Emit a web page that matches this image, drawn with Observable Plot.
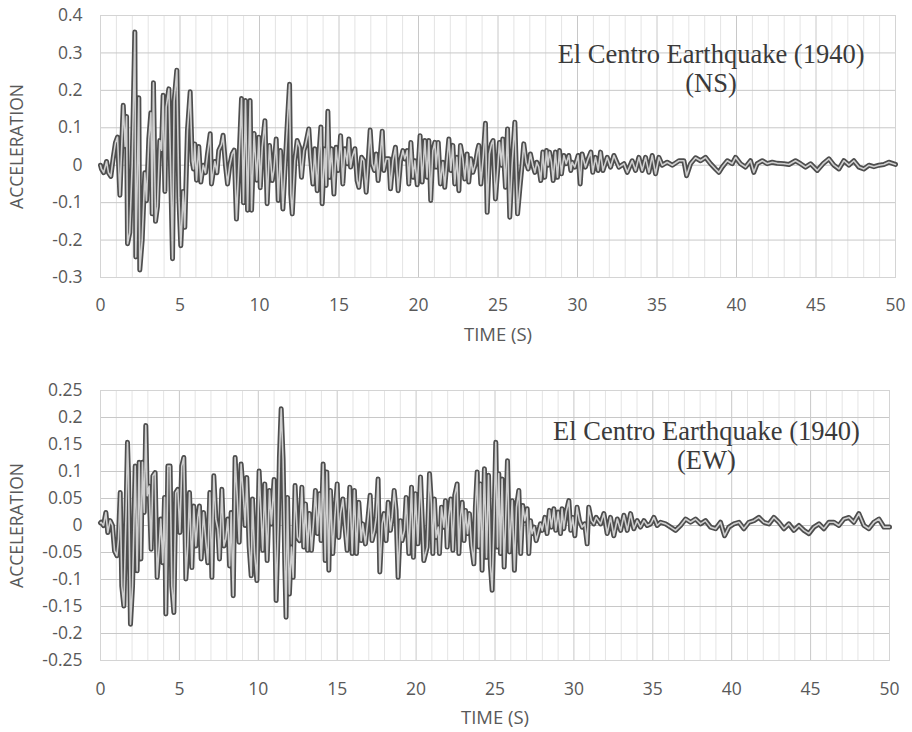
<!DOCTYPE html>
<html>
<head>
<meta charset="utf-8">
<script src="https://cdn.jsdelivr.net/npm/d3@7"></script>
<script src="https://cdn.jsdelivr.net/npm/@observablehq/plot@0.6"></script>
<style>
  html, body { margin: 0; padding: 0; background: #fff; }
  #chart { width: 912px; height: 732px; position: relative; }
  #chart svg { display: block; }
</style>
</head>
<body>
<div id="chart"></div>
<script>
// ---- tick values ----
const xTicks = [0, 5, 10, 15, 20, 25, 30, 35, 40, 45, 50];
const minorXTicks = [1,2,3,4,6,7,8,9,11,12,13,14,16,17,18,19,21,22,23,24,26,27,28,29,31,32,33,34,36,37,38,39,41,42,43,44,46,47,48,49];
const nsYTicks = [-0.3, -0.2, -0.1, 0, 0.1, 0.2, 0.3, 0.4];
const ewYTicks = [-0.25, -0.2, -0.15, -0.1, -0.05, 0, 0.05, 0.1, 0.15, 0.2, 0.25];

// ---- annotation texts ----
const nsTitle = "El Centro Earthquake (1940)\n(NS)";
const ewTitle = "El Centro Earthquake (1940)\n(EW)";
const xTitle = "TIME (S)";
const yTitle = "ACCELERATION";

// ---- NS record: [time (s), acceleration] ----
const nsPoints = [
[0,0],[0.06,-0.01],[0.2,-0.02],[0.38,0.01],[0.5,-0.02],[0.65,-0.03],[0.8,0.02],[0.94,0.06],[1.07,0.075],[1.22,-0.08],
[1.43,0.16],[1.55,0.05],[1.64,0.13],[1.70,-0.21],[1.84,-0.18],[1.99,0.0],[2.16,0.356],[2.22,-0.245],[2.41,0.18],[2.47,-0.28],
[2.62,-0.2],[2.79,-0.02],[2.89,-0.095],[3.04,0.07],[3.17,0.14],[3.25,-0.13],[3.33,0.22],[3.46,-0.15],[3.58,-0.11],[3.73,0.066],
[3.84,0.04],[3.94,0.187],[4.05,-0.07],[4.13,0.155],[4.30,0.204],[4.42,-0.03],[4.53,-0.25],[4.63,0.17],[4.80,0.254],[4.93,-0.086],
[5.05,-0.215],[5.20,-0.07],[5.30,-0.166],[5.47,0.093],[5.64,0.196],[5.77,0.01],[5.85,-0.01],[5.93,0.057],[6.04,-0.04],[6.18,0.05],
[6.31,-0.045],[6.46,0],[6.60,-0.02],[6.73,0.03],[6.90,0.084],[6.98,-0.05],[7.19,0.01],[7.32,-0.02],[7.44,0.04],[7.61,0.055],
[7.71,0.08],[7.86,0],[7.99,-0.05],[8.13,0],[8.28,0.03],[8.41,0.04],[8.55,-0.144],[8.70,0],[8.87,0.178],[8.99,-0.10],
[9.12,0.173],[9.25,-0.12],[9.41,0.173],[9.50,-0.12],[9.66,0.085],[9.83,-0.04],[9.96,0.075],[10.05,-0.06],[10.17,0.048],[10.34,0.119],
[10.48,-0.103],[10.63,0.053],[10.80,-0.041],[10.90,-0.014],[11.05,0.07],[11.18,-0.094],[11.32,0.039],[11.47,-0.117],[11.64,0.021],[11.76,0.119],
[11.89,0.216],[11.97,-0.077],[12.06,-0.13],[12.22,0.012],[12.37,0.066],[12.52,0.048],[12.64,-0.032],[12.79,0.039],[12.89,0.053],[13.10,0.097],
[13.21,0.021],[13.36,-0.05],[13.48,0.044],[13.63,-0.068],[13.73,0.021],[13.86,0.102],[13.94,-0.103],[14.11,0.044],[14.19,-0.054],[14.30,0.144],
[14.40,-0.032],[14.53,0.044],[14.68,-0.077],[14.82,0.048],[14.95,-0.014],[15.10,0.079],[15.24,-0.05],[15.37,0.044],[15.52,0.004],[15.62,0.07],
[15.73,-0.005],[15.83,0.021],[16.0,0.044],[16.14,-0.041],[16.25,-0.059],[16.42,0.021],[16.56,0.012],[16.71,-0.072],[16.84,0.012],[16.96,0.094],
[17.09,0.004],[17.23,-0.014],[17.34,0.03],[17.46,-0.041],[17.57,0.012],[17.72,0.091],[17.82,-0.014],[17.97,0.017],[18.14,0.017],[18.24,-0.063],
[18.39,0.012],[18.55,0.048],[18.72,-0.068],[18.87,0.012],[19.02,0.039],[19.14,0.017],[19.29,0.039],[19.39,-0.05],[19.52,0.061],[19.65,-0.032],
[19.77,0.012],[19.92,-0.052],[20.10,0.079],[20.23,-0.045],[20.40,0.066],[20.54,-0.032],[20.65,0.066],[20.77,-0.094],[20.90,0.039],[21.03,0.061],
[21.11,-0.005],[21.24,0.061],[21.38,-0.05],[21.53,0.008],[21.65,-0.059],[21.80,0.017],[21.91,0.07],[22.03,-0.014],[22.16,0.053],[22.28,-0.05],
[22.41,0.021],[22.54,-0.068],[22.64,0.053],[22.79,0.017],[22.91,-0.037],[23.06,0.03],[23.16,-0.045],[23.29,0.017],[23.42,-0.019],[23.58,0.004],
[23.71,0.039],[23.79,0.053],[23.92,-0.05],[24.07,0.021],[24.21,0.112],[24.32,-0.126],[24.46,0.03],[24.59,0.057],[24.69,0.066],[24.84,-0.09],
[24.99,-0.005],[25.09,0.061],[25.22,0],[25.30,0.07],[25.47,-0.059],[25.60,0.097],[25.74,-0.139],[25.89,0.004],[26.06,0.115],[26.23,-0.13],
[26.37,-0.063],[26.52,0.004],[26.62,0.057],[26.77,0.008],[26.90,-0.01],[27.04,0.03],[27.19,0],[27.32,-0.019],[27.44,0.008],[27.57,-0.005],
[27.69,-0.041],[27.82,0.035],[27.94,-0.032],[28.05,0.039],[28.15,0],[28.24,0.035],[28.36,0.008],[28.47,-0.041],[28.61,0.035],[28.74,-0.032],
[28.87,0.039],[28.99,-0.023],[29.14,0.026],[29.29,0.004],[29.45,0.026],[29.58,-0.014],[29.66,0.008],[29.83,-0.005],[30.04,0.026],[30.17,-0.05],
[30.29,0.03],[30.50,-0.005],[30.67,0.017],[30.84,0.035],[30.96,-0.019],[31.13,0.021],[31.30,-0.014],[31.45,0.035],[31.60,-0.014],[31.87,0.021],
[32.08,-0.005],[32.29,0.026],[32.6,-0.005],[32.92,0.004],[33.13,-0.019],[33.44,0.012],[33.65,-0.014],[33.86,0.021],[34.07,-0.014],[34.28,0.021],
[34.49,-0.019],[34.7,0.026],[34.91,-0.023],[35.12,0.021],[35.33,0],[35.64,0.008],[35.96,0],[36.38,0.012],[36.69,0.012],[36.86,-0.028],
[37.11,0.004],[37.42,0.02],[37.74,0.012],[38.05,0.021],[38.37,0.004],[38.68,-0.01],[38.89,-0.019],[39.1,-0.005],[39.42,0.012],[39.73,0.004],
[39.94,0.021],[40.25,0.004],[40.57,-0.005],[40.88,0.012],[41.09,-0.019],[41.3,0.004],[41.62,0.012],[41.93,0.004],[42.25,0.008],[42.56,0.005],
[42.98,0.004],[43.3,0.002],[43.71,0.012],[44.03,0.004],[44.34,-0.005],[44.66,0.004],[45.08,-0.014],[45.45,0.004],[45.81,0.017],[46.13,0],
[46.44,-0.01],[46.75,0.012],[47.07,0],[47.38,0.012],[47.7,-0.005],[48.01,-0.01],[48.33,0],[48.64,-0.004],[48.96,0],[49.27,0.002],
[49.58,0.008],[50,0.002]
];

// ---- EW record: [time (s), acceleration] ----
const ewPoints = [
[0,0.005],[0.04,0.006],[0.19,0],[0.34,0.024],[0.46,-0.013],[0.61,0.009],[0.76,0],[0.89,-0.047],[1.04,-0.056],[1.14,-0.025],
[1.25,0.061],[1.35,-0.112],[1.48,-0.149],[1.61,0.012],[1.71,0.154],[1.77,0.098],[1.90,-0.183],[2.03,-0.112],[2.20,0.11],[2.32,-0.084],
[2.45,0.117],[2.56,-0.062],[2.66,0.117],[2.77,0.024],[2.87,0.185],[2.96,0.055],[3.08,0.073],[3.21,-0.044],[3.32,0.092],[3.46,0.098],
[3.59,-0.096],[3.72,-0.038],[3.82,0.012],[3.95,-0.069],[4.06,0.052],[4.14,-0.164],[4.27,0.11],[4.41,0.11],[4.52,-0.112],[4.65,-0.161],
[4.77,0.061],[4.90,0.067],[5.03,-0.013],[5.15,0.11],[5.28,0.126],[5.41,-0.099],[5.53,-0.038],[5.64,0.061],[5.79,-0.078],[5.91,0.036],
[6.04,-0.038],[6.17,0.015],[6.27,0.036],[6.38,-0.062],[6.53,0.024],[6.68,-0.031],[6.80,-0.069],[6.93,0.061],[7.06,-0.096],[7.18,0.092],
[7.31,0.012],[7.44,-0.007],[7.54,-0.062],[7.69,0.067],[7.82,-0.038],[7.94,-0.025],[8.07,0.012],[8.18,-0.075],[8.28,0.024],[8.41,-0.13],
[8.53,0.126],[8.66,0.055],[8.79,-0.031],[8.91,0.114],[9.04,0.061],[9.17,0],[9.27,0.089],[9.42,-0.038],[9.55,-0.093],[9.63,0.049],
[9.76,-0.05],[9.91,-0.102],[10.05,0.101],[10.28,-0.046],[10.41,0.077],[10.56,-0.065],[10.71,0.065],[10.83,0.003],[11.0,0.085],[11.13,-0.139],
[11.26,-0.003],[11.34,0.127],[11.45,0.216],[11.57,0.123],[11.68,-0.071],[11.76,-0.17],[11.85,0.052],[11.97,-0.127],[12.10,-0.04],[12.21,-0.096],
[12.33,0.074],[12.48,-0.022],[12.61,-0.028],[12.76,0.071],[12.88,-0.04],[12.99,0.04],[13.12,-0.046],[13.24,0.022],[13.37,-0.046],[13.52,0.015],
[13.62,0.065],[13.75,-0.015],[13.88,0.059],[13.98,-0.028],[14.11,0.114],[14.24,-0.065],[14.34,0.099],[14.47,-0.083],[14.57,0.065],[14.72,-0.052],
[14.85,0.015],[15.0,0.077],[15.1,-0.022],[15.21,0.022],[15.36,0.049],[15.48,0.003],[15.63,-0.046],[15.8,0.071],[15.95,-0.052],[16.09,0.065],
[16.22,-0.052],[16.37,0.043],[16.52,-0.028],[16.62,0.003],[16.79,-0.034],[16.92,0.003],[17.09,0.056],[17.21,-0.028],[17.36,-0.009],[17.47,0.015],
[17.59,0.086],[17.7,-0.086],[17.85,0.003],[17.97,0.022],[18.1,-0.028],[18.23,0.043],[18.37,-0.009],[18.48,0.015],[18.61,0.065],[18.73,0.028],
[18.86,-0.096],[19.01,0.009],[19.11,-0.028],[19.26,-0.009],[19.37,0.052],[19.54,-0.052],[19.71,0.071],[19.83,-0.059],[19.96,0.059],[20.11,-0.034],
[20.28,0.09],[20.49,-0.065],[20.70,-0.04],[20.85,0.096],[20.97,0.04],[21.06,-0.052],[21.16,0.049],[21.27,-0.022],[21.40,-0.003],[21.48,-0.052],
[21.61,0.034],[21.76,-0.003],[21.86,0.046],[21.97,-0.04],[22.07,0.015],[22.20,0.049],[22.33,-0.046],[22.45,0.056],[22.60,0.077],[22.71,-0.052],
[22.81,0.015],[22.92,0.043],[23.04,-0.028],[23.13,0.028],[23.26,-0.015],[23.38,0.022],[23.51,-0.037],[23.66,-0.071],[23.76,0.034],[23.87,0.099],
[23.97,-0.04],[24.08,0.077],[24.18,-0.083],[24.33,0.105],[24.46,-0.059],[24.59,0.093],[24.71,-0.074],[24.82,-0.12],[24.95,0.022],[25.05,0.154],
[25.16,-0.04],[25.24,0.096],[25.35,-0.052],[25.45,0.086],[25.58,-0.077],[25.66,-0.009],[25.79,0.12],[25.92,-0.049],[26.09,0.046],[26.23,-0.083],
[26.36,0.034],[26.51,0.065],[26.63,-0.052],[26.76,0.037],[26.89,0.009],[27.04,0.031],[27.14,-0.052],[27.25,0.009],[27.35,-0.015],[27.48,-0.003],
[27.61,-0.028],[27.73,-0.015],[27.88,0.003],[27.99,-0.009],[28.16,0.015],[28.30,-0.015],[28.45,0.028],[28.58,-0.003],[28.73,0.031],[28.85,-0.009],
[29.00,0.025],[29.15,-0.015],[29.25,0.031],[29.36,-0.006],[29.51,0.025],[29.68,0.046],[29.80,-0.009],[29.93,0.015],[30.06,-0.019],[30.2,0.034],
[30.35,0.009],[30.52,-0.003],[30.69,0.003],[30.84,-0.034],[30.94,0.034],[31.11,0.009],[31.26,0.003],[31.41,0.015],[31.69,0.003],[31.9,0.022],
[32.11,-0.015],[32.32,0.015],[32.53,-0.019],[32.75,0.012],[32.96,-0.009],[33.17,0.019],[33.38,-0.009],[33.59,0.022],[33.8,-0.006],[34.01,0.009],
[34.22,-0.003],[34.44,0.009],[34.65,0],[34.86,0.003],[35.07,0.015],[35.28,0],[35.49,0.006],[35.81,0.003],[36.13,-0.003],[36.44,-0.009],
[36.76,0],[37.08,0.012],[37.39,0.006],[37.71,0.012],[38.03,0.003],[38.34,0.009],[38.66,-0.003],[38.98,-0.006],[39.29,0.006],[39.55,-0.019],
[39.82,-0.003],[40.14,0.003],[40.46,0.006],[40.77,-0.006],[41.09,0.006],[41.41,0.009],[41.72,0.015],[42.04,0.006],[42.36,0.003],[42.67,0.015],
[42.99,0.006],[43.31,-0.006],[43.62,0.003],[43.94,-0.009],[44.26,0],[44.58,-0.009],[44.89,-0.015],[45.21,-0.003],[45.53,0.003],[45.84,-0.006],
[46.16,0.006],[46.48,0.006],[46.79,0],[47.11,0.012],[47.43,0.015],[47.74,0.006],[48.06,0.022],[48.38,0],[48.69,-0.006],[49.01,0.006],
[49.33,0.012],[49.65,-0.003],[50,-0.003]
];

function panel(o) {
  const lineOpts = {x: d => d[0], y: d => d[1], strokeLinejoin: "round", strokeLinecap: "round"};
  return Plot.plot({
    width: 912,
    height: o.height,
    marginLeft: 100,
    marginRight: o.marginRight,
    marginTop: o.marginTop,
    marginBottom: o.marginBottom,
    style: {fontFamily: "'Open Sans', sans-serif", fontSize: "17.5px", color: "#595959", background: "white", overflow: "visible"},
    x: {domain: [0, 50], ticks: xTicks, tickSize: 0, tickPadding: o.tickPad, label: null, tickFormat: d => String(d)},
    y: {domain: o.yDomain, ticks: o.yTicks, tickSize: 0, tickPadding: 18, label: null, tickFormat: d => String(d)},
    marks: [
      Plot.ruleX(minorXTicks, {stroke: "#e4e4e4", strokeWidth: 1}),
      Plot.ruleY(o.yTicks, {stroke: "#c8c8c8", strokeWidth: 1}),
      Plot.ruleX(xTicks, {stroke: "#c8c8c8", strokeWidth: 1}),
      Plot.frame({stroke: "#d4d4d4"}),
      Plot.line(o.data, {...lineOpts, stroke: "#4e4e4e", strokeWidth: 5}),
      Plot.line(o.data, {...lineOpts, stroke: "#cfcfcf", strokeWidth: 1.6}),
      Plot.text([{x: o.annX, y: o.annY, t: o.title}], {x: "x", y: "y", text: "t", fontFamily: "'Liberation Serif', 'Times New Roman', serif", fontSize: 26.5, fill: "#3a3a3a", lineHeight: 1.1, textAnchor: "middle"}),
      Plot.text([xTitle], {frameAnchor: "bottom", dy: o.xTitleDy, lineAnchor: "middle", textAnchor: "middle", fontSize: 18.5}),
      Plot.text([yTitle], {frameAnchor: "left", dx: -83, rotate: -90, textAnchor: "middle", lineAnchor: "middle", fontSize: 17.5})
    ]
  });
}

const chart = document.getElementById("chart");
chart.appendChild(panel({
  data: nsPoints, yDomain: [-0.3, 0.4], yTicks: nsYTicks,
  height: 350, marginTop: 15, marginBottom: 73, marginRight: 17, tickPad: 21, xTitleDy: 58,
  title: nsTitle, annX: 38.4, annY: 0.26
}));
chart.appendChild(panel({
  data: ewPoints, yDomain: [-0.25, 0.25], yTicks: ewYTicks,
  height: 382, marginTop: 40, marginBottom: 72, marginRight: 23, tickPad: 22, xTitleDy: 58,
  title: ewTitle, annX: 38.4, annY: 0.148
}));
</script>
</body>
</html>
